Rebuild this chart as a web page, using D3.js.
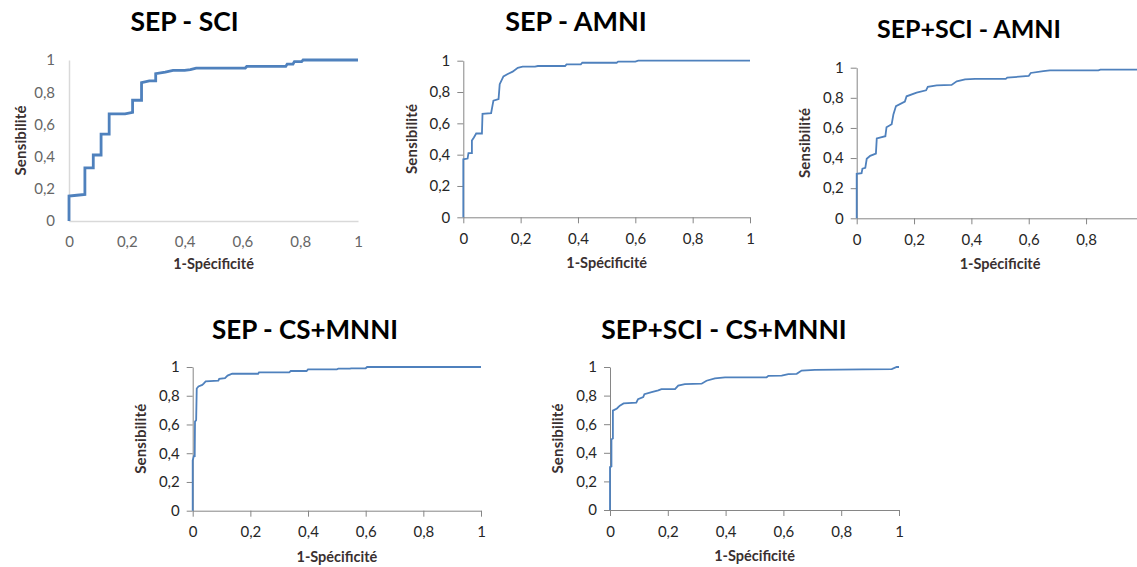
<!DOCTYPE html>
<html>
<head>
<meta charset="utf-8">
<script src="https://cdn.jsdelivr.net/npm/d3@7"></script>
<style>
  body { margin: 0; background: #fff; }
  svg { display: block; }
</style>
</head>
<body>
<div id="chart"></div>
<script>
const W = 1137, H = 567;

// ROC curves, [1-specificity, sensitivity]
const sepSci = [[0,0],[0,0.155],[0.027,0.16],[0.055,0.165],[0.055,0.33],[0.084,0.33],[0.084,0.41],[0.111,0.41],[0.111,0.54],[0.139,0.54],[0.139,0.665],[0.194,0.665],[0.22,0.675],[0.22,0.75],[0.251,0.75],[0.251,0.86],[0.278,0.87],[0.3,0.87],[0.3,0.915],[0.333,0.925],[0.36,0.935],[0.4,0.935],[0.42,0.94],[0.44,0.95],[0.61,0.95],[0.615,0.96],[0.75,0.96],[0.755,0.975],[0.775,0.975],[0.78,0.99],[0.805,0.99],[0.81,1],[1,1]];
const sepAmni = [[0,0],[0,0.37],[0.015,0.375],[0.018,0.41],[0.03,0.41],[0.03,0.49],[0.037,0.51],[0.045,0.535],[0.065,0.535],[0.067,0.66],[0.097,0.665],[0.105,0.745],[0.123,0.755],[0.127,0.85],[0.14,0.9],[0.155,0.915],[0.172,0.93],[0.19,0.955],[0.207,0.962],[0.25,0.962],[0.26,0.966],[0.355,0.966],[0.36,0.977],[0.41,0.977],[0.415,0.987],[0.535,0.987],[0.54,0.994],[0.6,0.994],[0.61,1],[1,1]];
const sepSciAmni = [[0,0],[0,0.295],[0.017,0.3],[0.02,0.33],[0.03,0.335],[0.035,0.395],[0.047,0.415],[0.067,0.43],[0.07,0.53],[0.1,0.545],[0.104,0.605],[0.122,0.625],[0.128,0.69],[0.137,0.745],[0.168,0.775],[0.174,0.81],[0.209,0.835],[0.242,0.85],[0.248,0.873],[0.279,0.882],[0.331,0.886],[0.349,0.91],[0.378,0.922],[0.413,0.926],[0.52,0.926],[0.525,0.934],[0.6,0.945],[0.607,0.965],[0.651,0.977],[0.674,0.982],[0.843,0.982],[0.85,0.987],[1,0.987]];
const sepCsMnni = [[0,0],[0,0.35],[0.004,0.38],[0.007,0.38],[0.008,0.62],[0.012,0.63],[0.014,0.85],[0.02,0.865],[0.033,0.875],[0.038,0.885],[0.045,0.9],[0.089,0.905],[0.092,0.918],[0.112,0.922],[0.121,0.94],[0.137,0.953],[0.227,0.953],[0.23,0.963],[0.335,0.963],[0.34,0.972],[0.395,0.972],[0.4,0.984],[0.5,0.984],[0.505,0.988],[0.545,0.988],[0.55,0.991],[0.6,0.991],[0.605,1],[1,1]];
const sepSciCsMnni = [[0,0],[0,0.3],[0.005,0.305],[0.005,0.495],[0.01,0.5],[0.01,0.695],[0.024,0.71],[0.034,0.73],[0.047,0.745],[0.091,0.75],[0.097,0.775],[0.115,0.79],[0.119,0.81],[0.144,0.824],[0.167,0.836],[0.178,0.845],[0.225,0.845],[0.236,0.87],[0.259,0.88],[0.317,0.883],[0.334,0.904],[0.363,0.92],[0.398,0.928],[0.542,0.928],[0.548,0.938],[0.594,0.94],[0.617,0.95],[0.646,0.952],[0.663,0.975],[0.709,0.98],[0.876,0.983],[0.975,0.985],[0.992,1],[1,1]];

const titles = ["SEP - SCI", "SEP - AMNI", "SEP+SCI - AMNI", "SEP - CS+MNNI", "SEP+SCI - CS+MNNI"];
const tickVals = [0, 0.2, 0.4, 0.6, 0.8, 1];
const xLabel = "1-Spécificité";
const yLabel = "Sensibilité";

const curves = [sepSci, sepAmni, sepSciAmni, sepCsMnni, sepSciCsMnni];

// plot boxes and looks, one per panel
const layout = [
    { x0: 69,    x1: 358,    y0: 221,   y1: 60,   tx: 184.5, ty: 31,    ts: 26.5, light: true,  lw: 2.8 },
    { x0: 463.3, x1: 750,    y0: 217.3, y1: 60.7, tx: 576,   ty: 30.5,  ts: 27,   light: false, lw: 1.8 },
    { x0: 856.7, x1: 1143.4, y0: 218.3, y1: 67.7, tx: 969,   ty: 37.5,  ts: 25,   light: false, lw: 1.8 },
    { x0: 192.7, x1: 481,    y0: 510.7, y1: 367,  tx: 305,   ty: 338.5, ts: 26,   light: false, lw: 1.8 },
    { x0: 610,   x1: 899,    y0: 510,   y1: 367,  tx: 724,   ty: 338.5, ts: 26.5, light: false, lw: 1.8 }
];

const font = "Lato, 'Open Sans', sans-serif";
const comma = d => String(d).replace(".", ",");

const svg = d3.select("#chart").append("svg")
    .attr("width", W)
    .attr("height", H)
    .style("font-family", font);

svg.append("rect").attr("width", W).attr("height", H).attr("fill", "#fff");

layout.forEach((p, i) => {
    const g = svg.append("g");

    const x = d3.scaleLinear().domain([0, 1]).range([p.x0, p.x1]);
    const y = d3.scaleLinear().domain([0, 1]).range([p.y0, p.y1]);

    const axisColor = p.light ? "#d9d9d9" : "#868686";
    const labelColor = p.light ? "#666" : "#262626";
    const tick = p.light ? 0 : 6;

    // the third panel runs past the page edge: keep only the labels that fit
    const xTicks = tickVals.filter(v => x(v) < W - 4);

    const xAxis = d3.axisBottom(x).tickValues(xTicks).tickFormat(comma)
        .tickSizeInner(tick).tickSizeOuter(0).tickPadding(p.light ? 15 : 10);
    const yAxis = d3.axisLeft(y).tickValues(tickVals).tickFormat(comma)
        .tickSizeInner(tick).tickSizeOuter(0).tickPadding(p.light ? 14 : 7);

    [["x", xAxis, `translate(0,${p.y0})`], ["y", yAxis, `translate(${p.x0},0)`]].forEach(([k, ax, tr]) => {
        const a = g.append("g")
            .attr("class", k + "-axis")
            .attr("transform", tr)
            .call(ax);
        a.attr("font-family", font).attr("font-size", 15);
        a.select(".domain").attr("stroke", axisColor).attr("stroke-width", p.light ? 1.5 : 1);
        a.selectAll(".tick line").attr("stroke", axisColor);
        a.selectAll(".tick text").attr("fill", labelColor);
    });

    const line = d3.line().x(d => x(d[0])).y(d => y(d[1]));
    g.append("path")
        .datum(curves[i])
        .attr("d", line)
        .attr("fill", "none")
        .attr("stroke", "#4f81bd")
        .attr("stroke-width", p.lw)
        .attr("stroke-linejoin", "miter");

    g.append("text")
        .attr("x", p.tx)
        .attr("y", p.ty)
        .attr("text-anchor", "middle")
        .attr("font-weight", "bold")
        .attr("font-size", p.ts)
        .attr("fill", "#000")
        .text(titles[i]);

    g.append("text")
        .attr("x", (p.x0 + p.x1) / 2)
        .attr("y", p.y0 + (p.light ? 47.5 : 51))
        .attr("text-anchor", "middle")
        .attr("font-weight", "bold")
        .attr("font-size", 14.5)
        .attr("fill", "#3a3030")
        .text(xLabel);

    g.append("text")
        .attr("transform", `translate(${p.x0 - (p.light ? 48 : 52)},${(p.y0 + p.y1) / 2}) rotate(-90)`)
        .attr("dy", "0.35em")
        .attr("text-anchor", "middle")
        .attr("font-weight", "bold")
        .attr("font-size", 15)
        .attr("textLength", 70)
        .attr("lengthAdjust", "spacing")
        .attr("fill", "#3a3030")
        .text(yLabel);
});
</script>
</body>
</html>
